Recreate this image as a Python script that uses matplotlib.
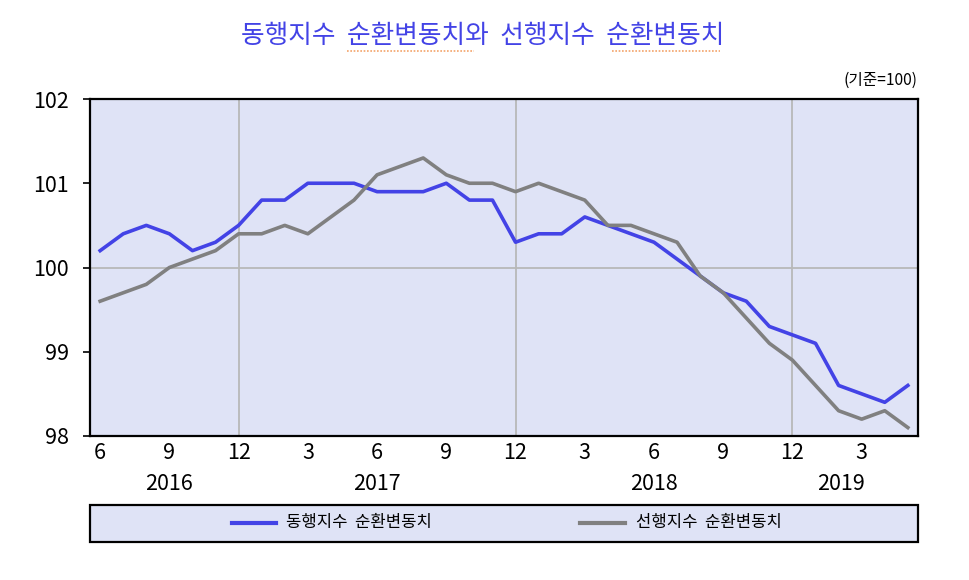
import matplotlib
matplotlib.use("Agg")
import matplotlib.pyplot as plt
from matplotlib.lines import Line2D
from matplotlib.patches import Rectangle

plt.rcParams['font.family'] = ['Noto Sans CJK KR', 'DejaVu Sans']

months = [6, 7, 8, 9, 10, 11, 12,
          1, 2, 3, 4, 5, 6, 7, 8, 9, 10, 11, 12,
          1, 2, 3, 4, 5, 6, 7, 8, 9, 10, 11, 12,
          1, 2, 3, 4, 5]
coincident = [100.2, 100.4, 100.5, 100.4, 100.2, 100.3, 100.5,
              100.8, 100.8, 101.0, 101.0, 101.0, 100.9, 100.9, 100.9, 101.0, 100.8, 100.8, 100.3,
              100.4, 100.4, 100.6, 100.5, 100.4, 100.3, 100.1, 99.9, 99.7, 99.6, 99.3, 99.2,
              99.1, 98.6, 98.5, 98.4, 98.6]
leading = [99.6, 99.7, 99.8, 100.0, 100.1, 100.2, 100.4,
           100.4, 100.5, 100.4, 100.6, 100.8, 101.1, 101.2, 101.3, 101.1, 101.0, 101.0, 100.9,
           101.0, 100.9, 100.8, 100.5, 100.5, 100.4, 100.3, 99.9, 99.7, 99.4, 99.1, 98.9,
           98.6, 98.3, 98.2, 98.3, 98.1]
tick_labels = ['6', '9', '12', '3', '6', '9', '12', '3', '6', '9', '12', '3']
years = ['2016', '2017', '2018', '2019']
year_pos = [3, 12, 24, 32.1]
series_names = ['동행지수  순환변동치', '선행지수  순환변동치']
title = '동행지수  순환변동치와  선행지수  순환변동치'

blue = '#4343e6'
gray = '#808080'
bg = '#dfe3f6'

x = list(range(len(months)))

fig = plt.figure(figsize=(9.7, 5.8), dpi=100)
ax = fig.add_axes([90/970, 1-436/580, 828/970, 337/580])
ax.set_facecolor(bg)
ax.plot(x, coincident, color=blue, lw=2.6, zorder=3)
ax.plot(x, leading, color=gray, lw=2.6, zorder=3)

ax.set_xlim(-0.44, len(x) - 1 + 0.44)
ax.set_ylim(98, 102)
ax.set_yticks([98, 99, 100, 101, 102])
ax.set_yticklabels(['98', '99', '100', '101', '102'], fontsize=15.5)
ax.set_xticks(x[::3])
ax.set_xticklabels(tick_labels, fontsize=15.5)
ax.tick_params(axis='x', length=0, pad=4)
ax.tick_params(axis='y', length=5, width=1.2, pad=10)

for m in (6, 18, 30):
    ax.axvline(m, color='#b8b8b8', lw=1.3, zorder=1)
ax.axhline(100, color='#b8b8b8', lw=1.3, zorder=1)

for s in ax.spines.values():
    s.set_linewidth(1.6)
    s.set_color('black')

for yl, yp in zip(years, year_pos):
    ax.text(yp, -0.142, yl, transform=ax.get_xaxis_transform(), ha='center', va='center', fontsize=15.5)

fig.text(483/970, 1-36/580, title, ha='center', va='center', fontsize=18.5, color=blue)
for xa, xb in ((347, 474), (612, 720)):
    fig.lines.append(Line2D([xa/970, xb/970], [1-51/580, 1-51/580], transform=fig.transFigure,
                            color='#f3a36a', lw=1.2, ls=(0, (1, 1))))
fig.text(918/970, 1-80/580, '(기준=100)', ha='right', va='center', fontsize=11.3)

# legend box
lx0, lx1 = 90/970, 918/970
ly0, ly1 = 1-542/580, 1-505/580
fig.patches.append(Rectangle((lx0, ly0), lx1-lx0, ly1-ly0, transform=fig.transFigure,
                             facecolor=bg, edgecolor='black', lw=1.6))
yc = 1-523/580
fig.lines.append(Line2D([232/970, 276/970], [yc, yc], transform=fig.transFigure, color=blue, lw=3))
fig.text(286/970, yc, series_names[0], ha='left', va='center', fontsize=12)
fig.lines.append(Line2D([580/970, 625/970], [yc, yc], transform=fig.transFigure, color=gray, lw=3))
fig.text(636/970, yc, series_names[1], ha='left', va='center', fontsize=12)

fig.savefig('out.png', dpi=100)
